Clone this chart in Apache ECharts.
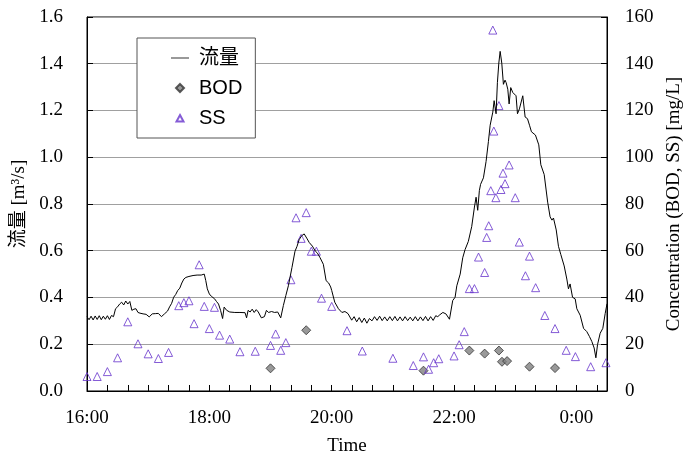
<!DOCTYPE html>
<html>
<head>
<meta charset="utf-8">
<script src="https://cdn.jsdelivr.net/npm/echarts@6/dist/echarts.min.js"></script>
<style>
html,body{margin:0;padding:0;background:#fff;}
#chart{width:696px;height:461px;}
</style>
</head>
<body>
<div id="chart"></div>
<script>
// 時刻は16:00からの経過分
var flowMinutes = [
	0, 2, 4, 6, 8, 10, 12, 14, 16, 18, 20, 22, 24, 26, 28, 30, 32, 34, 36, 38, 40, 42, 44, 46, 48, 50,
	52, 55, 58, 61, 64, 67, 70, 73, 76, 79, 81, 83, 85, 87, 89, 91, 93, 95, 97, 100, 104, 108, 112, 115,
	116.5, 118, 120, 122, 125, 127, 129, 131, 133, 134.5, 137, 140, 145, 150, 155, 156.5, 158, 160, 162, 164,
	166, 168, 171, 174, 176, 178, 181, 184, 187, 190, 192.6, 195, 197.5, 201, 204, 206, 208, 210.5, 213, 215.5,
	218, 221, 224, 226, 228.6, 231.8, 234.5, 237, 239, 240, 243, 246.6, 250, 253, 256, 259.6, 262, 264.5, 267, 269.5,
	272, 274.5, 277, 279.5, 282, 284.5, 287, 289.5, 292, 294.5, 297, 299.5, 302, 304.5, 307, 309.5, 312, 314.5,
	317, 319.5, 322, 324.5, 327, 329.5, 332, 334.5, 337, 339.5, 342, 344, 346, 349, 352, 355.5, 358.7, 361,
	362.7, 366, 368.5, 370.8, 374, 377.3, 380, 381.6, 383.2, 384.8, 386, 388.8, 391.4, 393.7, 395.4, 398, 399.3, 401.2,
	402.5, 403.9, 405.2, 406.8, 408.4, 410, 411.1, 412.7, 414, 415.6, 417.6, 419, 420.8, 422.2, 424.1, 425.5, 427.4, 429.7,
	432, 434, 435.9, 437.8, 439.8, 441.5, 443.1, 445.1, 446.7, 448.4, 450.3, 451.8, 454.2, 456, 457.5, 460.2, 462.4, 464.7,
	468, 470.6, 472.2, 473.8, 476.2, 478.8, 480.4, 483.7, 487, 490.2, 492.8, 495.1, 497.4, 499.1, 500.7, 503.3, 505.9, 508.2, 510
];
var flowValues = [
	0.318, 0.305, 0.320, 0.304, 0.321, 0.306, 0.322, 0.305, 0.320, 0.307, 0.322, 0.306, 0.323, 0.318, 0.352, 0.360, 0.372, 0.380, 0.368, 0.385, 0.372, 0.383, 0.345, 0.350, 0.352, 0.336,
	0.333, 0.330, 0.328, 0.317, 0.330, 0.331, 0.332, 0.318, 0.330, 0.342, 0.360, 0.375, 0.401, 0.413, 0.430, 0.440, 0.462, 0.479, 0.486, 0.490, 0.494, 0.496, 0.496, 0.500,
	0.472, 0.437, 0.415, 0.405, 0.395, 0.383, 0.372, 0.345, 0.310, 0.359, 0.345, 0.338, 0.336, 0.336, 0.335, 0.313, 0.345, 0.338, 0.350, 0.336,
	0.348, 0.338, 0.313, 0.318, 0.345, 0.336, 0.340, 0.336, 0.338, 0.313, 0.366, 0.408, 0.450, 0.528, 0.598, 0.619, 0.647, 0.664, 0.672, 0.654,
	0.635, 0.620, 0.598, 0.590, 0.570, 0.542, 0.472, 0.462, 0.445, 0.430, 0.380, 0.352, 0.336, 0.340, 0.331, 0.303, 0.318, 0.296, 0.314, 0.293,
	0.312, 0.290, 0.310, 0.300, 0.318, 0.302, 0.320, 0.301, 0.317, 0.300, 0.318, 0.301, 0.319, 0.300, 0.317, 0.300, 0.318, 0.301,
	0.316, 0.300, 0.318, 0.300, 0.317, 0.301, 0.319, 0.300, 0.318, 0.302, 0.322, 0.318, 0.326, 0.336, 0.330, 0.307, 0.387, 0.401,
	0.450, 0.500, 0.570, 0.605, 0.640, 0.703, 0.787, 0.829, 0.773, 0.857, 0.884, 0.912, 0.982, 1.067, 1.137, 1.193, 1.242, 1.186,
	1.319, 1.403, 1.453, 1.403, 1.312, 1.330, 1.319, 1.291, 1.228, 1.298, 1.277, 1.280, 1.263, 1.186, 1.207, 1.200, 1.263, 1.172,
	1.165, 1.137, 1.109, 1.115, 1.095, 1.100, 1.053, 0.968, 0.968, 0.926, 0.860, 0.808, 0.745, 0.731, 0.740, 0.689, 0.619, 0.584,
	0.535, 0.479, 0.437, 0.458, 0.401, 0.394, 0.352, 0.324, 0.268, 0.254, 0.233, 0.212, 0.184, 0.142, 0.198, 0.247, 0.268, 0.331, 0.373
];
// BOD [mg/L]
var bodMinutes = [180, 215, 330, 375, 390, 404, 407, 412, 434, 459];
var bodValues = [9.7, 26.0, 8.7, 17.3, 16.0, 17.3, 12.5, 12.8, 10.4, 9.8];
// SS [mg/L]
var ssMinutes = [
	0, 10, 20, 30, 40, 50, 60, 70, 80, 90, 95, 100, 105, 110, 115, 120, 125, 130, 140, 150, 165,
	180, 185, 190, 195, 200, 205, 210, 215, 220, 225, 230, 240, 255, 270, 300, 320, 330, 335, 340, 345,
	360, 365, 370, 375, 380, 384, 390, 392, 394, 396, 398, 399, 401, 404, 406, 408, 410, 414, 420, 424,
	430, 434, 440, 449, 459, 470, 479, 494, 509
];
var ssValues = [
	6.2, 6.2, 8.3, 14.2, 29.6, 20.2, 15.9, 13.9, 16.5, 36.5, 37.8, 38.6, 28.8, 54.0, 36.2, 26.7, 35.8, 23.9, 22.2, 16.8, 17.0,
	19.5, 24.4, 17.4, 20.7, 47.6, 74.1, 65.3, 76.3, 59.8, 59.8, 39.7, 36.2, 25.8, 17.1, 14.0, 10.9, 14.6, 9.3, 12.1, 13.8,
	15.0, 19.8, 25.4, 43.8, 43.8, 57.3, 50.7, 65.7, 70.7, 85.7, 154.4, 111.2, 82.7, 122.1, 86.2, 93.2, 88.7, 96.7, 82.7, 63.7,
	49.3, 57.7, 44.2, 32.3, 26.7, 17.4, 14.7, 10.4, 12.1
];

function pairs(xs, ys){
	return xs.map(function(x, i){ return [x, ys[i]]; });
}

var serif = "'Times New Roman', 'Liberation Serif', 'Noto Sans CJK JP', serif";
var sans = "Arial, 'Liberation Sans', 'Noto Sans CJK JP', sans-serif";

// 凡例アイコン（18x8の枠の中央に小さく描く）
var iconLine = "path://M0,0M18,8M0,3.6L18,3.6L18,4.4L0,4.4Z";
var iconDiamond = "path://M0,0M18,8M9,0L13,4L9,8L5,4Z";
var iconTriangle = "path://M0,0M18,8M9,1L12.5,7.5L5.5,7.5Z";

var myChart = echarts.init(document.getElementById("chart"));
var option = {
	animation: false,
	backgroundColor: "#fff",
	grid: {
		left: 87, right: 89, top: 17, bottom: 64,
		show: true, borderColor: "#000", borderWidth: 1
	},
	legend: {
		orient: "vertical",
		left: 137, top: 38,
		padding: [10, 13, 10, 33],
		itemGap: 10,
		itemWidth: 18,
		itemHeight: 8,
		backgroundColor: "#fff",
		borderColor: "#555",
		borderWidth: 1,
		borderRadius: 0,
		textStyle: {fontFamily: sans, fontSize: 20, color: "#000", lineHeight: 20, padding: [0, 0, 0, 5]},
		data: [
			{name: "流量", icon: iconLine},
			{name: "BOD", icon: iconDiamond},
			{name: "SS", icon: iconTriangle}
		]
	},
	xAxis: {
		type: "value",
		min: 0, max: 510, interval: 20,
		name: "Time",
		nameLocation: "middle",
		nameGap: 46,
		nameTextStyle: {fontFamily: serif, fontSize: 19, color: "#000"},
		axisLine: {lineStyle: {color: "#000"}},
		axisTick: {inside: true, length: 6, lineStyle: {color: "#000"}},
		splitLine: {show: false},
		axisLabel: {
			fontFamily: serif, fontSize: 19, color: "#000", margin: 18,
			formatter: function(v){
				if (v % 120 !== 0) return "";
				return ((16 + v / 60) % 24) + ":00";
			}
		}
	},
	yAxis: [{
		type: "value",
		min: 0, max: 1.6, interval: 0.2,
		name: "流量 [m³/s]",
		nameLocation: "middle",
		nameGap: 55,
		nameTextStyle: {fontFamily: serif, fontSize: 19, color: "#000"},
		axisLine: {show: true, lineStyle: {color: "#000"}},
		axisTick: {show: true, inside: true, length: 6, lineStyle: {color: "#000"}},
		splitLine: {lineStyle: {color: "#a0a0a0", width: 1}},
		axisLabel: {
			fontFamily: serif, fontSize: 19, color: "#000", margin: 24,
			formatter: function(v){ return v.toFixed(1); }
		}
	}, {
		type: "value",
		min: 0, max: 160, interval: 20,
		name: "Concentration (BOD, SS) [mg/L]",
		nameLocation: "middle",
		nameGap: 55,
		nameTextStyle: {fontFamily: serif, fontSize: 19, color: "#000"},
		axisLine: {show: true, lineStyle: {color: "#000"}},
		axisTick: {show: true, inside: true, length: 6, lineStyle: {color: "#000"}},
		splitLine: {show: false},
		axisLabel: {fontFamily: serif, fontSize: 19, color: "#000", margin: 18}
	}],
	series: [{
		name: "流量",
		type: "line",
		yAxisIndex: 0,
		symbol: "none",
		lineStyle: {color: "#000", width: 1},
		itemStyle: {color: "#000"},
		data: pairs(flowMinutes, flowValues)
	}, {
		name: "BOD",
		type: "scatter",
		yAxisIndex: 1,
		symbol: "diamond",
		symbolSize: 9,
		itemStyle: {color: "#808080", borderColor: "#333", borderWidth: 1},
		data: pairs(bodMinutes, bodValues)
	}, {
		name: "SS",
		type: "scatter",
		yAxisIndex: 1,
		symbol: "triangle",
		symbolSize: 8,
		itemStyle: {color: "rgba(255,255,255,0)", borderColor: "#6633cc", borderWidth: 1},
		data: pairs(ssMinutes, ssValues)
	}]
};
myChart.setOption(option);
</script>
</body>
</html>
